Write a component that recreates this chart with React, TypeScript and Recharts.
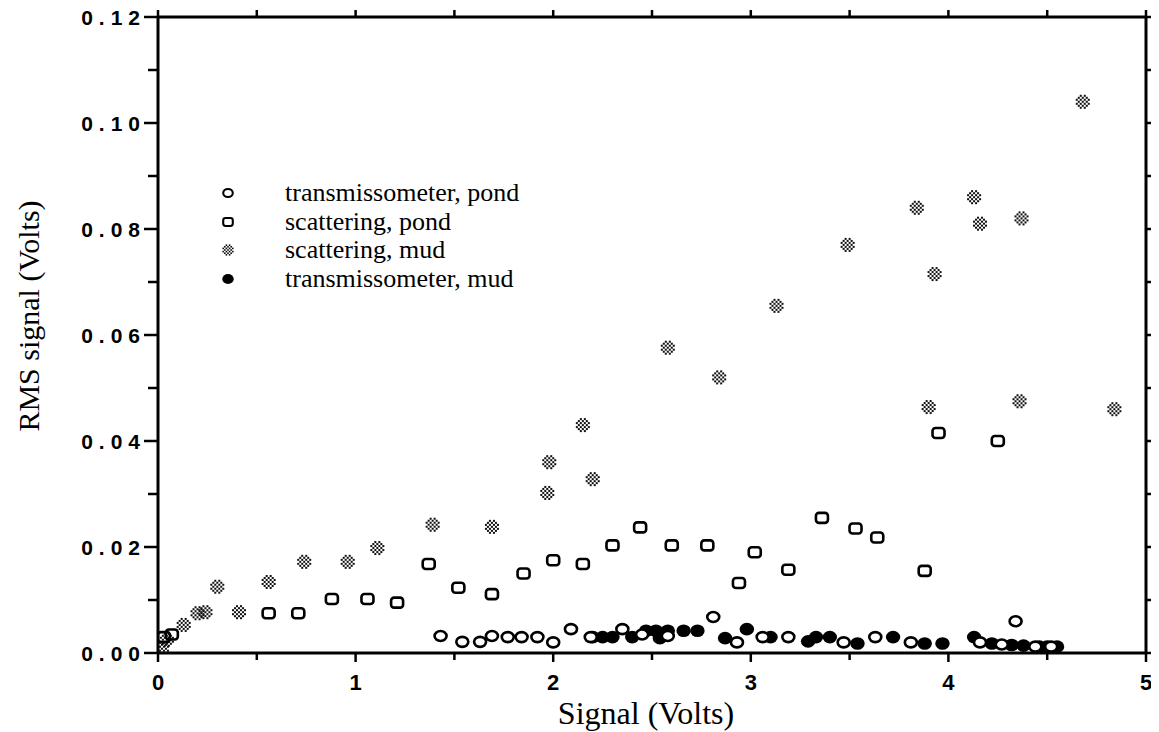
import React from 'react';
import { ScatterChart, Scatter, XAxis, YAxis, Legend } from 'recharts';

// ---- data ----
const trPondX = [1.43, 1.54, 1.63, 1.69, 1.77, 1.84, 1.92, 2.0, 2.09, 2.19, 2.35, 2.45, 2.58, 2.81, 2.93, 3.06, 3.19, 3.47, 3.63, 3.81, 4.16, 4.27, 4.34, 4.44, 4.52];
const trPondY = [0.0032, 0.0021, 0.0021, 0.0032, 0.003, 0.003, 0.003, 0.002, 0.0045, 0.003, 0.0045, 0.0035, 0.0032, 0.0068, 0.002, 0.003, 0.003, 0.002, 0.003, 0.002, 0.002, 0.0016, 0.006, 0.0012, 0.0012];

const scatPondX = [0.03, 0.07, 0.56, 0.71, 0.88, 1.06, 1.21, 1.37, 1.52, 1.69, 1.85, 2.0, 2.15, 2.3, 2.44, 2.6, 2.78, 2.94, 3.02, 3.19, 3.36, 3.53, 3.64, 3.88, 3.95, 4.25];
const scatPondY = [0.003, 0.0035, 0.0075, 0.0075, 0.0102, 0.0102, 0.0095, 0.0168, 0.0123, 0.0111, 0.015, 0.0175, 0.0168, 0.0203, 0.0237, 0.0203, 0.0203, 0.0132, 0.019, 0.0157, 0.0255, 0.0235, 0.0218, 0.0155, 0.0415, 0.04];

const scatMudX = [0.02, 0.045, 0.13, 0.2, 0.24, 0.3, 0.41, 0.56, 0.74, 0.96, 1.11, 1.39, 1.69, 1.97, 1.98, 2.15, 2.2, 2.58, 2.84, 3.13, 3.49, 3.84, 3.9, 3.93, 4.13, 4.16, 4.36, 4.37, 4.68, 4.84];
const scatMudY = [0.0008, 0.0025, 0.0053, 0.0075, 0.0077, 0.0125, 0.0077, 0.0134, 0.0172, 0.0172, 0.0198, 0.0242, 0.0238, 0.0302, 0.036, 0.043, 0.0328, 0.0576, 0.052, 0.0655, 0.077, 0.084, 0.0464, 0.0715, 0.086, 0.081, 0.0475, 0.082, 0.104, 0.046];

const trMudX = [2.2, 2.25, 2.3, 2.4, 2.47, 2.52, 2.54, 2.58, 2.66, 2.73, 2.87, 2.98, 3.1, 3.29, 3.33, 3.4, 3.54, 3.72, 3.88, 3.97, 4.13, 4.22, 4.32, 4.38, 4.46, 4.5, 4.55];
const trMudY = [0.003, 0.003, 0.003, 0.003, 0.0042, 0.0042, 0.0028, 0.0042, 0.0042, 0.0042, 0.0028, 0.0045, 0.003, 0.0022, 0.003, 0.003, 0.0018, 0.003, 0.0018, 0.0018, 0.003, 0.0018, 0.0015, 0.0014, 0.0012, 0.0012, 0.0012];

const xTicks = [0, 0.5, 1, 1.5, 2, 2.5, 3, 3.5, 4, 4.5, 5];
const xTickLabels = ['0', '1', '2', '3', '4', '5'];
const yTicks = [0, 0.01, 0.02, 0.03, 0.04, 0.05, 0.06, 0.07, 0.08, 0.09, 0.1, 0.11, 0.12];
const yTickLabels = ['0.00', '0.02', '0.04', '0.06', '0.08', '0.10', '0.12'];

const seriesNames = ['transmissometer, pond', 'scattering, pond', 'scattering, mud', 'transmissometer, mud'];
const xTitle = 'Signal (Volts)';
const yTitle = 'RMS signal (Volts)';

const zip = (xs: number[], ys: number[]) => xs.map((x, i) => ({ x, y: ys[i] }));
const trPond = zip(trPondX, trPondY);
const scatPond = zip(scatPondX, scatPondY);
const scatMud = zip(scatMudX, scatMudY);
const trMud = zip(trMudX, trMudY);

// ---- marker shapes ----
const OpenCircle = ({ cx, cy, s = 1 }: any) => (
  <ellipse cx={cx} cy={cy} rx={6 * s} ry={5 * s} fill="#fff" stroke="#000" strokeWidth={2.6 * s} />
);
const FilledCircle = ({ cx, cy, s = 1 }: any) => (
  <ellipse cx={cx} cy={cy} rx={7.2 * s} ry={6.3 * s} fill="#000" stroke="none" />
);
const OpenSquare = ({ cx, cy, s = 1 }: any) => (
  <rect x={cx - 6 * s} y={cy - 5 * s} width={12 * s} height={10 * s} rx={3 * s} fill="none" stroke="#000" strokeWidth={2.6 * s} />
);
const Hatch = ({ cx, cy, s = 1 }: any) => {
  const n = 7;
  const c = 2 * s;
  const cells: any[] = [];
  for (let i = 0; i < n; i++) {
    for (let j = 0; j < n; j++) {
      if ((i + j) % 2) continue;
      if ((i === 0 || i === n - 1) && (j === 0 || j === n - 1)) continue;
      cells.push(
        <rect key={i + '-' + j} x={cx - (n * c) / 2 + i * c} y={cy - (n * c) / 2 + j * c} width={c} height={c} fill="#111" />
      );
    }
  }
  return <g>{cells}</g>;
};

// ---- axis ticks ----
const sansFont = 'Liberation Sans, Arial, sans-serif';
const serifFont = 'Liberation Serif, Times New Roman, serif';

const BottomTick = ({ x, y, payload }: any) => {
  const v = payload.value;
  const idx = Math.round(v);
  const isMajor = Math.abs(v - idx) < 1e-6;
  return (
    <g>
      <line x1={x} x2={x} y1={y} y2={y + (isMajor ? 9 : 7)} stroke="#000" strokeWidth={2.5} />
      {isMajor && (
        <text x={x} y={y + 37} textAnchor="middle" fontFamily={sansFont} fontSize={22} fontWeight={700}>{xTickLabels[idx]}</text>
      )}
    </g>
  );
};
const TopTick = ({ x, y }: any) => (
  <line x1={x} x2={x} y1={y} y2={y - 7} stroke="#000" strokeWidth={2.5} />
);
const LeftTick = ({ x, y, payload }: any) => {
  const k = Math.round(payload.value * 100);
  const isMajor = k % 2 === 0;
  return (
    <g>
      <line x1={x} x2={x - (isMajor ? 14 : 10)} y1={y} y2={y} stroke="#000" strokeWidth={2.5} />
      {isMajor && (
        <text x={x - 12} y={y + 7.5} textAnchor="end" letterSpacing={6} fontFamily={sansFont} fontSize={21} fontWeight={700}>{yTickLabels[k / 2]}</text>
      )}
    </g>
  );
};
const RightTick = ({ x, y }: any) => (
  <line x1={x} x2={x + 9} y1={y} y2={y} stroke="#000" strokeWidth={2.5} />
);

// ---- legend ----
const legendShapes = [OpenCircle, OpenSquare, Hatch, FilledCircle];
const LegendContent = () => (
  <div style={{ fontFamily: serifFont, fontSize: 26, color: '#000' }}>
    {seriesNames.map((name, i) => {
      const Shape = legendShapes[i];
      return (
        <div key={name} style={{ display: 'flex', alignItems: 'center', height: 28.5 }}>
          <svg width={40} height={20} style={{ marginRight: 37 }}>
            <Shape cx={20} cy={10} s={0.8} />
          </svg>
          <span style={{ whiteSpace: 'nowrap' }}>{name}</span>
        </div>
      );
    })}
  </div>
);

const W = 1159;
const H = 732;

export default function App() {
  return (
    <div style={{ position: 'relative', width: W, height: H, margin: '-8px 0 0 -8px' }}>
      <ScatterChart width={W} height={H} margin={{ top: 8, right: 0, bottom: 0, left: 0 }}>
        <XAxis
          xAxisId="b"
          type="number"
          dataKey="x"
          domain={[0, 5]}
          ticks={xTicks}
          interval={0}
          height={79}
          tickSize={0}
          tickMargin={0}
          tickLine={false}
          tick={<BottomTick />}
          axisLine={{ stroke: '#000', strokeWidth: 3 }}
          allowDataOverflow
        />
        <XAxis
          xAxisId="t"
          orientation="top"
          type="number"
          dataKey="x"
          domain={[0, 5]}
          ticks={xTicks}
          interval={0}
          height={9}
          tickSize={0}
          tickMargin={0}
          tickLine={false}
          tick={<TopTick />}
          axisLine={{ stroke: '#000', strokeWidth: 3 }}
          allowDataOverflow
        />
        <YAxis
          yAxisId="l"
          type="number"
          dataKey="y"
          domain={[0, 0.12]}
          ticks={yTicks}
          interval={0}
          width={158}
          tickSize={0}
          tickMargin={0}
          tickLine={false}
          tick={<LeftTick />}
          axisLine={{ stroke: '#000', strokeWidth: 3 }}
          allowDataOverflow
        />
        <YAxis
          yAxisId="r"
          orientation="right"
          type="number"
          dataKey="y"
          domain={[0, 0.12]}
          ticks={yTicks}
          interval={0}
          width={13}
          tickSize={0}
          tickMargin={0}
          tickLine={false}
          tick={<RightTick />}
          axisLine={{ stroke: '#000', strokeWidth: 3 }}
          allowDataOverflow
        />
        <Legend
          layout="vertical"
          align="center"
          verticalAlign="middle"
          wrapperStyle={{ left: 208, top: 179, width: 400 }}
          content={<LegendContent />}
        />
        <Scatter name={seriesNames[2]} data={scatMud} xAxisId="b" yAxisId="l" isAnimationActive={false}
          shape={(p: any) => <Hatch cx={p.cx} cy={p.cy} />} />
        <Scatter name={seriesNames[1]} data={scatPond} xAxisId="b" yAxisId="l" isAnimationActive={false}
          shape={(p: any) => <OpenSquare cx={p.cx} cy={p.cy} />} />
        <Scatter name={seriesNames[3]} data={trMud} xAxisId="b" yAxisId="l" isAnimationActive={false}
          shape={(p: any) => <FilledCircle cx={p.cx} cy={p.cy} />} />
        <Scatter name={seriesNames[0]} data={trPond} xAxisId="b" yAxisId="l" isAnimationActive={false}
          shape={(p: any) => <OpenCircle cx={p.cx} cy={p.cy} />} />
      </ScatterChart>
      <div style={{ position: 'absolute', left: 646 - 200, top: 696, width: 400, textAlign: 'center',
        fontFamily: serifFont, fontSize: 32, lineHeight: '34px', whiteSpace: 'nowrap' }}>
        {xTitle}
      </div>
      <div style={{ position: 'absolute', left: 29 - 200, top: 316 - 17, width: 400, textAlign: 'center',
        transform: 'rotate(-90deg)', fontFamily: serifFont, fontSize: 30, lineHeight: '34px', whiteSpace: 'nowrap' }}>
        {yTitle}
      </div>
    </div>
  );
}
